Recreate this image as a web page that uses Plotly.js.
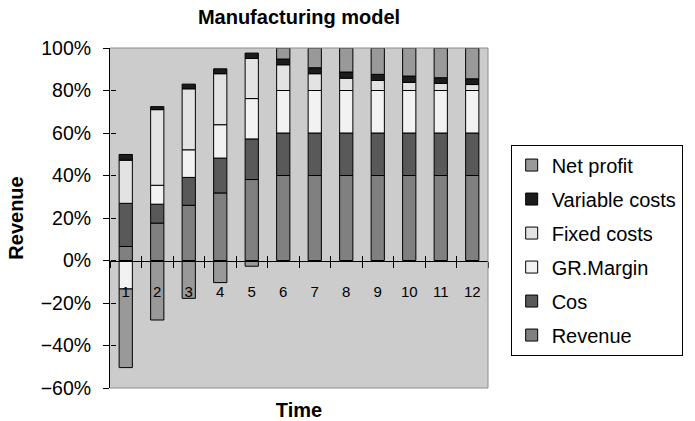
<!DOCTYPE html>
<html>
<head>
<meta charset="utf-8">
<script src="https://cdn.plot.ly/plotly-3.0.1.min.js"></script>
<style>
  html, body { margin: 0; padding: 0; background: #ffffff; }
  #chart { width: 695px; height: 421px; }
</style>
</head>
<body>
<div id="chart"></div>
<script>
// Manufacturing model: share of revenue per period (percent)
const periods = ['1', '2', '3', '4', '5', '6', '7', '8', '9', '10', '11', '12'];

const revenue       = [6.6, 17.6, 26.0, 31.8, 38.1, 40, 40, 40, 40, 40, 40, 40];
const cos           = [20.3, 8.9, 13.1, 16.4, 19.1, 20, 20, 20, 20, 20, 20, 20];
const grMargin      = [-13.4, 8.9, 13.0, 15.7, 19.0, 20, 20, 20, 20, 20, 20, 20];
const fixedCosts    = [20.3, 35.6, 28.7, 24.0, 18.9, 12.1, 7.9, 5.8, 4.7, 3.8, 3.3, 2.8];
const variableCosts = [2.7, 1.4, 2.2, 2.3, 2.5, 2.7, 2.8, 2.9, 2.9, 3.0, 2.7, 2.7];
const netProfit     = [-37.0, -28.0, -17.8, -10.4, -2.7, 5.2, 9.3, 11.3, 12.4, 13.2, 14.0, 14.5];

// stacking order, bottom to top
const seriesNames = ['Revenue', 'Cos', 'GR.Margin', 'Fixed costs', 'Variable costs', 'Net profit'];
const seriesValues = [revenue, cos, grMargin, fixedCosts, variableCosts, netProfit];
const seriesColors = ['#808080', '#595959', '#f2f2f2', '#e3e3e3', '#1c1c1c', '#999999'];

const FONT = 'Liberation Sans, Arial, Helvetica, sans-serif';

const traces = seriesNames.map((name, i) => ({
  type: 'bar',
  name: name,
  x: periods,
  y: seriesValues[i],
  legendgroup: name,
  legendrank: seriesNames.length - i,   // top of the stack listed first
  marker: { color: seriesColors[i], line: { color: '#000000', width: 1 } },
  hoverinfo: 'x+y+name'
}));

// helper traces so the overlay axes (cross tick halves, bottom title axis) are drawn
traces.push({ type: 'scatter', x: [null], y: [null], xaxis: 'x2', yaxis: 'y2',
  showlegend: false, hoverinfo: 'skip' });
traces.push({ type: 'scatter', x: [null], y: [null], xaxis: 'x3', yaxis: 'y2',
  showlegend: false, hoverinfo: 'skip' });

const yMin = -60, yMax = 100;
const zeroPos = (0 - yMin) / (yMax - yMin);

const layout = {
  width: 695,
  height: 421,
  margin: { l: 110, r: 185, t: 48, b: 33 },
  paper_bgcolor: '#ffffff',
  plot_bgcolor: '#cccccc',
  font: { family: FONT, color: '#000000', size: 19 },
  barmode: 'relative',
  bargap: 0.58,
  showlegend: true,
  title: {
    text: '<b>Manufacturing model</b>',
    font: { family: FONT, size: 20, color: '#000000' },
    x: 0.5, xref: 'paper', xanchor: 'center',
    y: 1 - 17 / 421, yref: 'container', yanchor: 'middle'
  },
  legend: {
    x: 1.06, xanchor: 'left',
    y: 0.716, yanchor: 'top',
    bgcolor: '#ffffff',
    bordercolor: '#000000',
    borderwidth: 1,
    traceorder: 'grouped',
    tracegroupgap: 5,
    font: { family: FONT, size: 20, color: '#000000' }
  },
  xaxis: {
    type: 'category',
    categoryorder: 'array',
    categoryarray: periods,
    range: [-0.5, periods.length - 0.5],
    anchor: 'free',
    position: zeroPos,
    showline: true, linecolor: '#000000', linewidth: 1,
    ticks: 'outside', ticklen: 6, tickcolor: '#000000', tickwidth: 1,
    tickson: 'boundaries',
    ticklabelstandoff: 17,
    tickfont: { family: FONT, size: 15, color: '#000000' },
    showgrid: false, zeroline: false,
    fixedrange: true
  },
  xaxis2: {
    overlaying: 'x',
    anchor: 'free',
    position: zeroPos,
    range: [-0.5, periods.length - 0.5],
    tickmode: 'linear', tick0: -0.5, dtick: 1,
    ticks: 'inside', ticklen: 5, tickcolor: '#000000', tickwidth: 1,
    showticklabels: false, showline: false, showgrid: false, zeroline: false
  },
  xaxis3: {
    overlaying: 'x',
    anchor: 'free',
    position: 0,
    range: [0, 1],
    ticks: '', showticklabels: false, showline: false, showgrid: false, zeroline: false,
    title: { text: '<b>Time</b>', font: { family: FONT, size: 20, color: '#000000' }, standoff: 14 }
  },
  yaxis: {
    range: [yMin, yMax],
    tickmode: 'linear', tick0: 0, dtick: 20,
    ticksuffix: '%',
    showline: true, linecolor: '#000000', linewidth: 1,
    ticks: 'outside', ticklen: 6, tickcolor: '#000000', tickwidth: 1,
    ticklabelstandoff: 8,
    tickfont: { family: FONT, size: 19.5, color: '#000000' },
    showgrid: false, zeroline: false,
    title: { text: '<b>Revenue</b>', font: { family: FONT, size: 20, color: '#000000' }, standoff: 11 },
    fixedrange: true
  },
  yaxis2: {
    overlaying: 'y',
    anchor: 'free',
    position: 0,
    range: [yMin, yMax],
    tickmode: 'linear', tick0: 0, dtick: 20,
    ticks: 'inside', ticklen: 5, tickcolor: '#000000', tickwidth: 1,
    showticklabels: false, showline: false, showgrid: false, zeroline: false
  },
  shapes: [
    { type: 'line', xref: 'paper', yref: 'paper', x0: 0, x1: 1, y0: 1, y1: 1,
      line: { color: '#8c8c8c', width: 1 }, layer: 'above' },
    { type: 'line', xref: 'paper', yref: 'paper', x0: 1, x1: 1, y0: 0, y1: 1,
      line: { color: '#8c8c8c', width: 1 }, layer: 'above' },
    { type: 'line', xref: 'paper', yref: 'paper', x0: 0, x1: 1, y0: 0, y1: 0,
      line: { color: '#8c8c8c', width: 1 }, layer: 'above' }
  ]
};

Plotly.newPlot('chart', traces, layout, { displayModeBar: false, staticPlot: true });
</script>
</body>
</html>
